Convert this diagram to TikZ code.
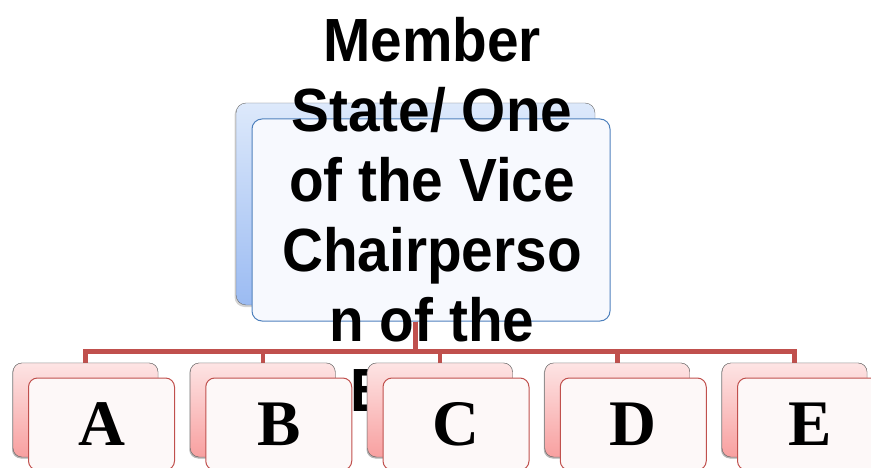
\documentclass[tikz,border=0pt]{standalone}
\usepackage{fontspec}
\setmainfont{Liberation Serif}
\newfontfamily\headfont[FakeStretch=0.93]{Liberation Sans}
\usetikzlibrary{shadows}
\definecolor{chairblue}{HTML}{4F81BD}
\definecolor{memberred}{HTML}{C0504D}
\begin{document}
\begin{tikzpicture}[x=1pt, y=-1pt]
\tikzstyle{every node}+=[inner sep=0pt]
\tikzstyle{blueback}=[draw=gray!85!black, rounded corners=10pt, top color={rgb,255:red,221;green,233;blue,251}, bottom color={rgb,255:red,155;green,187;blue,242}, drop shadow={shadow xshift=-1.5pt, shadow yshift=-2pt, opacity=0.35}]
\tikzstyle{bluefront}=[draw=chairblue, line width=1pt, rounded corners=10pt, fill={rgb,255:red,247;green,249;blue,254}]
\tikzstyle{redback}=[draw=gray!85!black, rounded corners=9pt, top color={rgb,255:red,253;green,228;blue,228}, bottom color={rgb,255:red,248;green,160;blue,160}, drop shadow={shadow xshift=-1pt, shadow yshift=-1.5pt, opacity=0.35}]
\tikzstyle{redfront}=[draw=memberred, line width=1pt, rounded corners=9pt, fill={rgb,255:red,253;green,248;blue,248}]
\tikzstyle{link}=[memberred, line width=4.5pt]
\useasboundingbox (0,0) rectangle (871,468);
\node[blueback, minimum width=359, minimum height=202] (chairback) at (415.5,204) {};
\node[bluefront, minimum width=358, minimum height=202] (chairfront) at (431,220) {};
\node[anchor=north, align=center, font=\headfont\bfseries\fontsize{61}{70}\selectfont] (chairtext) at (432,17) {Member\\State/ One\\of the Vice\\Chairperso\\n of the\\Board};
\foreach \name [count=\i from 0] in {A,B,C,D,E} {
  \node[redback, minimum width=145, minimum height=94] (back\name) at (85.5+177.25*\i,410) {};
}
\foreach \name in {A,B,C,D,E} {
  \draw[link] (chairback.south |- chairfront.south) -- ++(0,30) -| (back\name.north);
}
\foreach \name [count=\i from 0] in {A,B,C,D,E} {
  \node[redback, minimum width=145, minimum height=94] at (back\name) {};
  \node[redfront, minimum width=146, minimum height=92] (front\name) at (101.5+177.25*\i,424) {};
  \node[font=\bfseries\fontsize{65}{70}\selectfont] (label\name) at (front\name) {\name};
}
\end{tikzpicture}
\end{document}
